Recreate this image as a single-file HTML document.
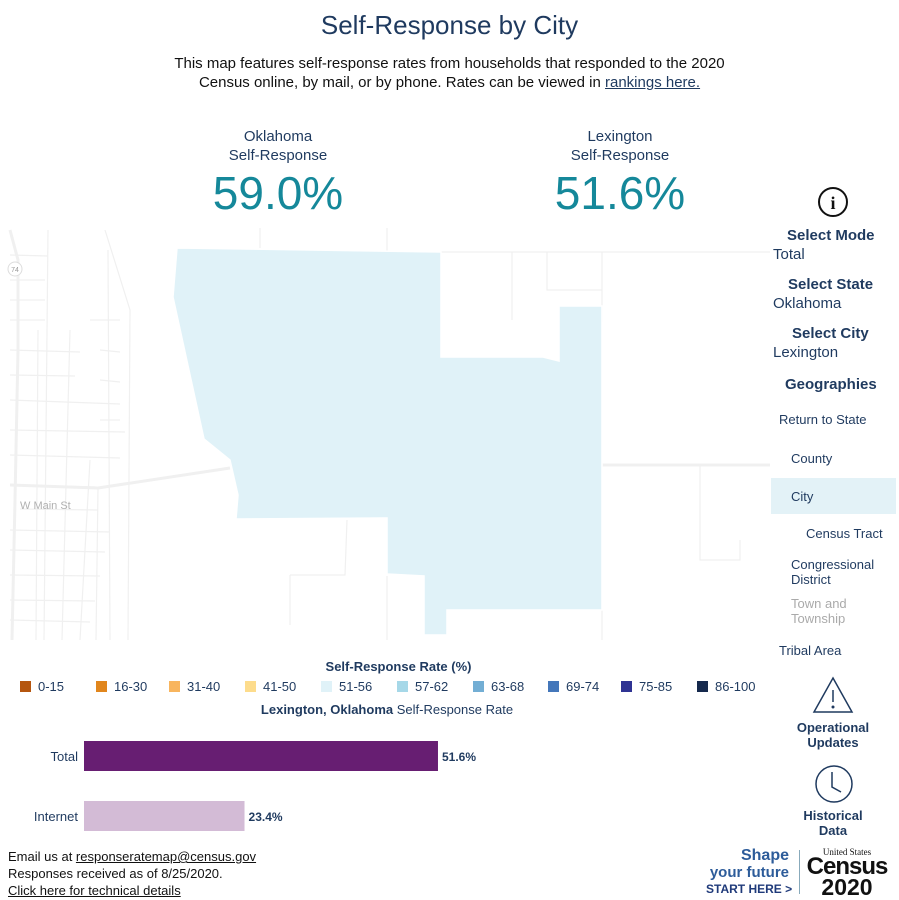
<!DOCTYPE html>
<html><head><meta charset="utf-8">
<style>
body{margin:0;width:899px;height:899px;background:#fff;font-family:"Liberation Sans",sans-serif;color:#1f3a5f;position:relative;overflow:hidden}
.a{position:absolute;white-space:nowrap}
.c{text-align:center}
.side{color:#1f3a5f;font-size:13px}
</style></head><body>
<div class="a c" style="left:0;width:899px;top:10px;font-size:26px;">Self-Response by City</div>
<div class="a c" style="left:0;width:899px;top:54px;font-size:15px;line-height:19px;color:#111">This map features self-response rates from households that responded to the 2020<br>Census online, by mail, or by phone. Rates can be viewed in <span style="text-decoration:underline;color:#1f3a5f">rankings here.</span></div>
<div class="a c" style="left:178px;width:200px;top:127px;font-size:15px;line-height:19px">Oklahoma<br>Self-Response</div>
<div class="a c" style="left:178px;width:200px;top:166px;font-size:46px;color:#15889a">59.0%</div>
<div class="a c" style="left:520px;width:200px;top:127px;font-size:15px;line-height:19px">Lexington<br>Self-Response</div>
<div class="a c" style="left:520px;width:200px;top:166px;font-size:46px;color:#15889a">51.6%</div>

<svg class="a" style="left:0;top:225px" width="770" height="420" viewBox="0 225 770 420">
<g stroke="#f0f0f0" fill="none" stroke-width="1.2">
<path d="M10 230 L18 260 L18 350 L15 500 L12 640" stroke-width="3"/>
<path d="M48 230 L44 640 M38 330 L36 640 M70 330 L62 640 M90 460 L80 640 M108 250 L110 640"/>
<path d="M105 230 L130 310 L128 640" />
<path d="M10 255 L48 256 M10 280 L45 280 M10 300 L45 300 M10 320 L45 320 M10 350 L80 352 M10 375 L75 376 M10 400 L120 404 M10 430 L125 432 M10 455 L120 458 M10 485 L95 487 M10 530 L110 532 M10 550 L105 552 M10 575 L100 576 M10 600 L95 601 M10 620 L90 622"/>
<path d="M90 320 L120 320 M100 350 L120 352 M100 380 L120 382 M100 420 L120 420"/>
<path d="M10 485 L98 488 L230 468" stroke-width="3"/>
<path d="M98 488 L96 640 M20 509 L98 510"/>
<path d="M260 228 L260 248 M387 228 L387 252" />
<path d="M441 252 L780 252 M512 252 L512 320 M547 252 L547 290 L602 290 M602 252 L602 322"/>
<path d="M602 465 L780 465" stroke-width="3"/>
<path d="M290 575 L345 575 L347 520 M290 575 L290 625 M387 576 L387 640 M602 610 L602 640"/>
<path d="M700 465 L700 560 L740 560 L740 540"/>
</g>
<text x="20" y="509" font-size="11" fill="#b0b0b0" font-family="Liberation Sans,sans-serif">W Main St</text>
<circle cx="15" cy="269" r="7" fill="#fff" stroke="#ddd"/>
<text x="15" y="272" font-size="7" fill="#999" text-anchor="middle" font-family="Liberation Sans,sans-serif">74</text>
<polygon fill="#e0f2f8" stroke="#fff" stroke-width="1.5" points="177,248 441,252 441,357 543,357 559,361 559,306 602,306 602,610 447,610 447,635 424,635 424,576 387,574 387,518 236,519 238,495 230,460 204,439 173,297"/>
</svg>

<!-- sidebar -->
<svg class="a" style="left:817px;top:186px" width="32" height="32"><circle cx="16" cy="16" r="14" fill="none" stroke="#111" stroke-width="2"/><text x="16" y="23" font-size="18" font-weight="bold" text-anchor="middle" fill="#111" font-family="Liberation Serif,serif">i</text></svg>
<div class="a side" style="left:787px;top:227px;font-size:15px;font-weight:bold">Select Mode</div>
<div class="a side" style="left:773px;top:246px;font-size:15px">Total</div>
<div class="a side" style="left:788px;top:276px;font-size:15px;font-weight:bold">Select State</div>
<div class="a side" style="left:773px;top:295px;font-size:15px">Oklahoma</div>
<div class="a side" style="left:792px;top:325px;font-size:15px;font-weight:bold">Select City</div>
<div class="a side" style="left:773px;top:344px;font-size:15px">Lexington</div>
<div class="a side" style="left:785px;top:376px;font-size:15px;font-weight:bold">Geographies</div>
<div class="a side" style="left:779px;top:412px">Return to State</div>
<div class="a side" style="left:791px;top:451px">County</div>
<div class="a" style="left:771px;top:478px;width:125px;height:36px;background:#e3f2f7"></div>
<div class="a side" style="left:791px;top:489px">City</div>
<div class="a side" style="left:806px;top:526px">Census Tract</div>
<div class="a side" style="left:791px;top:557px;line-height:15px">Congressional<br>District</div>
<div class="a side" style="left:791px;top:596px;line-height:15px;color:#aaa">Town and<br>Township</div>
<div class="a side" style="left:779px;top:643px">Tribal Area</div>
<svg class="a" style="left:812px;top:676px" width="42" height="38"><path d="M21 2 L40 36 L2 36 Z" fill="none" stroke="#1f3a5f" stroke-width="1.5"/><line x1="21" y1="14" x2="21" y2="26" stroke="#1f3a5f" stroke-width="1.5"/><circle cx="21" cy="31" r="1.5" fill="#1f3a5f"/></svg>
<div class="a side c" style="left:783px;width:100px;top:720px;font-weight:bold;line-height:15px">Operational<br>Updates</div>
<svg class="a" style="left:814px;top:764px" width="40" height="40"><circle cx="20" cy="20" r="18" fill="none" stroke="#1f3a5f" stroke-width="1.5"/><path d="M18 8 L18 23 L27 28" fill="none" stroke="#1f3a5f" stroke-width="1.5"/></svg>
<div class="a side c" style="left:783px;width:100px;top:808px;font-weight:bold;line-height:15px">Historical<br>Data</div>

<!-- legend -->
<div class="a c" style="left:0;width:797px;top:659px;font-size:13px;font-weight:bold">Self-Response Rate (%)</div>
<div id="legend"></div>
<div class="a c" style="left:0;width:774px;top:702px;font-size:13px"><b>Lexington, Oklahoma</b> Self-Response Rate</div>
<svg class="a" id="bars" style="left:0;top:725px" width="700" height="120"></svg>

<div class="a" style="left:8px;top:848px;font-size:13px;line-height:17px;color:#111">Email us at <span style="text-decoration:underline">responseratemap@census.gov</span><br>Responses received as of 8/25/2020.<br><span style="text-decoration:underline">Click here for technical details</span></div>

<div class="a" style="left:706px;top:847px;text-align:right;width:83px;font-weight:bold;color:#2d5c9a;line-height:17px">
<div style="font-size:16px">Shape</div><div style="font-size:15px">your future</div><div style="font-size:12px;color:#1f3a7a">START HERE &gt;</div></div>
<div class="a" style="left:799px;top:850px;width:1px;height:44px;background:#8ab"></div>
<div class="a c" style="left:804px;top:848px;width:86px;color:#111;font-weight:bold">
<div style="font-size:9px;font-weight:normal;font-family:'Liberation Serif',serif;line-height:9px">United States</div>
<div style="font-size:24px;line-height:20px;letter-spacing:-1px">Census</div>
<div style="font-size:23px;line-height:20px">2020</div></div>

<script>
const legendLabels=["0-15","16-30","31-40","41-50","51-56","57-62","63-68","69-74","75-85","86-100"];
const legendColors=["#b5560f","#e1861d","#f8b55e","#fddc8c","#e0f2f8","#a6d8e8","#73aed4","#4477ba","#2f3393","#15294d"];
const legendX=[20,96,169,245,321,397,473,548,621,697];
const L=document.getElementById('legend');
legendLabels.forEach((t,i)=>{
  const d=document.createElement('div');
  
  
  d.className='a';
  d.style.cssText=`left:${legendX[i]}px;top:679px;font-size:13px;color:#1f3a5f`;
  d.innerHTML=`<span style="display:inline-block;width:11px;height:11px;background:${legendColors[i]};vertical-align:-1px;margin-right:7px"></span>${t}`;
  L.appendChild(d);
});
const barCats=["Total","Internet"];
const barVals=[51.6,23.4];
const barColors=["#671e72","#d3bbd6"];
const x0=84, pxPer=6.86;
const xs=v=>x0+v*pxPer;
const ys=i=>16+i*60;
const S=document.getElementById('bars');
const NS='http://www.w3.org/2000/svg';
barCats.forEach((c,i)=>{
  const r=document.createElementNS(NS,'rect');
  
  
  r.setAttribute('x',x0);r.setAttribute('y',ys(i));
  r.setAttribute('width',xs(barVals[i])-x0);r.setAttribute('height',30);
  r.setAttribute('fill',barColors[i]);S.appendChild(r);
  const t=document.createElementNS(NS,'text');
  
  
  t.setAttribute('x',78);t.setAttribute('y',ys(i)+20);t.setAttribute('text-anchor','end');
  t.setAttribute('font-size','13');t.setAttribute('fill','#1f3a5f');t.setAttribute('font-family','Liberation Sans,sans-serif');
  t.textContent=c;S.appendChild(t);
  const v=document.createElementNS(NS,'text');
  
  
  v.setAttribute('x',xs(barVals[i])+4);v.setAttribute('y',ys(i)+20);
  v.setAttribute('font-size','12');v.setAttribute('font-weight','bold');v.setAttribute('fill','#1f3a5f');v.setAttribute('font-family','Liberation Sans,sans-serif');
  v.textContent=barVals[i].toFixed(1)+'%';S.appendChild(v);
});
</script>
</body></html>
